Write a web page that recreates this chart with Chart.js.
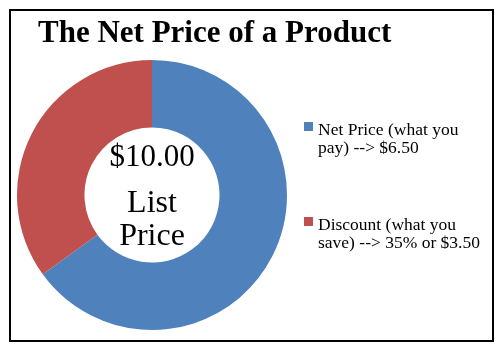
<!DOCTYPE html>
<html>
<head>
<meta charset="utf-8">
<script src="https://cdn.jsdelivr.net/npm/chart.js@4/dist/chart.umd.min.js"></script>
<style>
  html, body { margin: 0; padding: 0; background: #fff; }
  #wrap { width: 503px; height: 351px; position: relative; }
</style>
</head>
<body>
<div id="wrap"><canvas id="c" width="503" height="351"></canvas></div>
<script>
const titleText = "The Net Price of a Product";
const categories = ["Net Price (what you pay) --> $6.50", "Discount (what you save) --> 35% or $3.50"];
const legendLines = [["Net Price (what you", "pay) --> $6.50"], ["Discount (what you", "save) --> 35% or $3.50"]];
const values = [6.5, 3.5];
const colors = ["#4F81BD", "#C0504D"];
const centerLines = ["$10.00", "List", "Price"];

const SERIF = "'Liberation Serif', 'Times New Roman', serif";

const decor = {
  id: 'decor',
  beforeDraw(chart) {
    const ctx = chart.ctx;
    ctx.save();
    ctx.fillStyle = '#fff';
    ctx.fillRect(0, 0, chart.width, chart.height);
    ctx.strokeStyle = '#000';
    ctx.lineWidth = 2;
    ctx.strokeRect(10, 10, 483, 331);
    ctx.restore();
  },
  afterDraw(chart) {
    const ctx = chart.ctx;
    ctx.save();
    // title
    ctx.fillStyle = '#000';
    ctx.textBaseline = 'alphabetic';
    ctx.textAlign = 'left';
    ctx.font = "bold 31px " + SERIF;
    ctx.fillText(titleText, 38, 42);
    // center text
    const meta = chart.getDatasetMeta(0);
    const arc = meta.data[0];
    const cx = arc.x, cy = arc.y;
    ctx.textAlign = 'center';
    ctx.font = "31px " + SERIF;
    ctx.fillText(centerLines[0], cx, cy - 29);
    ctx.font = "32px " + SERIF;
    ctx.fillText(centerLines[1], cx, cy + 17);
    ctx.fillText(centerLines[2], cx, cy + 50);
    // legend
    ctx.textAlign = 'left';
    ctx.font = "17.5px " + SERIF;
    ctx.fillStyle = '#000';
    const tops = [135, 230];
    legendLines.forEach((lines, i) => {
      const y = tops[i];
      ctx.fillStyle = chart.data.datasets[0].backgroundColor[i];
      ctx.fillRect(304, y - 13, 9, 9);
      ctx.fillStyle = '#000';
      lines.forEach((ln, j) => ctx.fillText(ln, 318, y + j * 18));
    });
    ctx.restore();
  }
};

new Chart(document.getElementById('c'), {
  type: 'doughnut',
  data: {
    labels: categories,
    datasets: [{
      data: values,
      backgroundColor: colors,
      borderWidth: 0
    }]
  },
  options: {
    responsive: false,
    animation: false,
    cutout: '50%',
    layout: { padding: { left: 17, top: 60, right: 216, bottom: 21 } },
    plugins: {
      legend: { display: false },
      title: { display: false },
      tooltip: { enabled: false }
    }
  },
  plugins: [decor]
});
</script>
</body>
</html>
